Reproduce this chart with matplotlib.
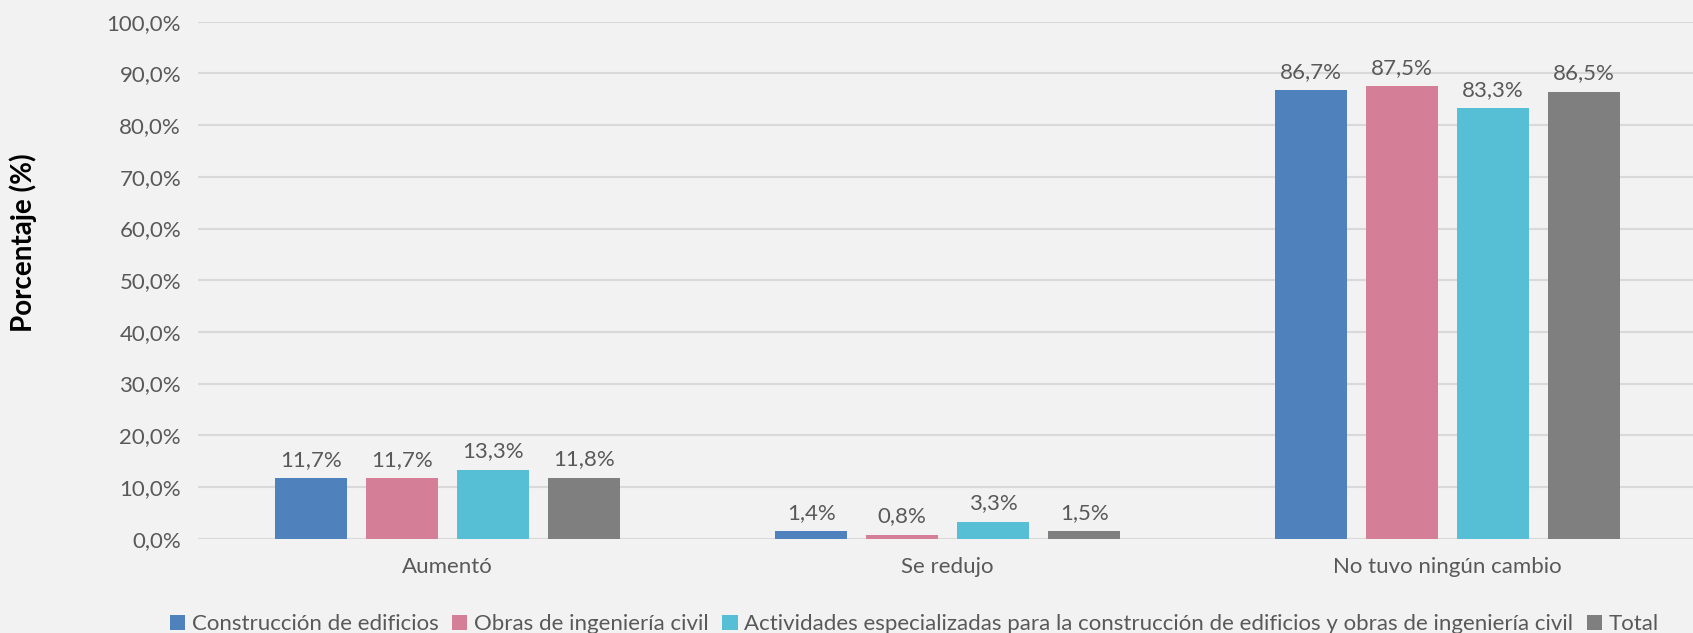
import matplotlib.pyplot as plt
import numpy as np

# Data
categories = ['Aumentó', 'Se redujo', 'No tuvo ningún cambio']
series_names = ['Construcción de edificios', 'Obras de ingeniería civil',
                'Actividades especializadas para la construcción de edificios y obras de ingeniería civil',
                'Total']
construccion = [11.7, 1.4, 86.7]
obras = [11.7, 0.8, 87.5]
actividades = [13.3, 3.3, 83.3]
total = [11.8, 1.5, 86.5]
yticks = [0, 10, 20, 30, 40, 50, 60, 70, 80, 90, 100]

colors = ['#4F81BD', '#D47F97', '#56BED5', '#7F7F7F']
txt = '#595959'
bg = '#F2F2F2'

plt.rcParams['font.family'] = ['Lato', 'DejaVu Sans']

fig = plt.figure(figsize=(16.93, 6.33), dpi=100, facecolor=bg)
ax = fig.add_axes([0.1168, 0.149, 0.886, 0.8167], facecolor=bg)

x = np.arange(len(categories))
width = 0.143
step = 0.182
all_series = [construccion, obras, actividades, total]
for i, (vals, name) in enumerate(zip(all_series, series_names)):
    pos = x + (i - 1.5) * step
    bars = ax.bar(pos, vals, width, color=colors[i], label=name, zorder=3)
    for b, v in zip(bars, vals):
        ax.annotate(f'{v:.1f}%'.replace('.', ','), (b.get_x() + b.get_width() / 2, v),
                    textcoords='offset points', xytext=(0, 6), ha='center', va='bottom',
                    fontsize=16, color=txt)

ax.set_xlim(-0.5, 2.5)
ax.set_ylim(0, 100)
ax.set_yticks(yticks)
ax.set_yticklabels([f'{t},0%' for t in yticks], fontsize=16, color=txt)
ax.set_xticks(x)
ax.set_xticklabels(categories, fontsize=16, color=txt)
ax.tick_params(axis='both', length=0)
ax.tick_params(axis='x', pad=13)
ax.tick_params(axis='y', pad=12)
ax.grid(axis='y', color='#D9D9D9', linewidth=1.5, zorder=0)
for s in ax.spines.values():
    s.set_visible(False)

fig.text(0.014, 0.616, 'Porcentaje (%)', rotation=90, ha='center', va='center',
         fontsize=20, fontweight='bold', color='black')

leg = fig.legend(loc='center', bbox_to_anchor=(0.54, 0.014), ncol=4, frameon=False,
                 fontsize=16, handlelength=0.7, handleheight=0.7, handletextpad=0.3,
                 columnspacing=0.6, labelcolor=txt)

fig.savefig('out.png', dpi=100, facecolor=bg)
